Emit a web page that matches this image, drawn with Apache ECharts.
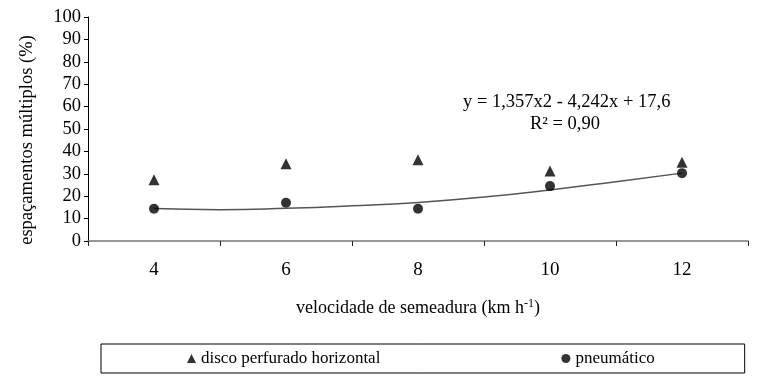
<!DOCTYPE html>
<html><head><meta charset="utf-8">
<script src="https://cdn.jsdelivr.net/npm/echarts@6/dist/echarts.min.js"></script>
<style>html,body{margin:0;padding:0;background:#fff}#c{width:782px;height:384px}</style>
</head><body><div id="c"></div>
<script>
const categories = ['4', '6', '8', '10', '12'];
const disco = [27.3, 34.5, 36.3, 31.2, 35.2];
const pneumatico = [14.4, 17.1, 14.4, 24.5, 30.3];
// trend curve at positions 1..5 (half steps)
const trendX = [1, 1.5, 2, 2.5, 3, 3.5, 4, 4.5, 5];
const trendY = [14.5, 14.0, 14.6, 15.7, 17.2, 19.6, 22.8, 26.5, 30.3];
const yTicks = {min: 0, max: 100, interval: 10};
const equation = 'y = 1,357x2 - 4,242x + 17,6';
const r2 = 'R² = 0,90';

const F = 'Liberation Serif, Times New Roman, serif';
const chart = echarts.init(document.getElementById('c'));
chart.setOption({
  animation: false,
  grid: {left: 88, right: 34, top: 17, bottom: 143},
  xAxis: [{
    type: 'category', data: categories, boundaryGap: true,
    axisLine: {lineStyle: {color: '#777', width: 1.5}},
    axisTick: {show: true, length: 5, lineStyle: {color: '#222'}},
    axisLabel: {fontFamily: F, fontSize: 19, color: '#000', margin: 20},
    name: 'velocidade de semeadura (km h{sup|-1})',
    nameLocation: 'middle', nameGap: 57,
    nameTextStyle: {fontFamily: F, fontSize: 18, color: '#000',
      rich: {sup: {fontFamily: F, fontSize: 12, color: '#000', verticalAlign: 'top', padding: [0, 0, 9, 0]}}}
  }, {
    type: 'value', min: 0.5, max: 5.5, show: false
  }],
  yAxis: {
    type: 'value', min: yTicks.min, max: yTicks.max, interval: yTicks.interval,
    axisLine: {show: true, lineStyle: {color: '#000', width: 1}},
    axisTick: {show: true, length: 4, inside: false, lineStyle: {color: '#000'}},
    splitLine: {show: false},
    axisLabel: {fontFamily: F, fontSize: 18.5, color: '#000', margin: 7},
    name: 'espaçamentos múltiplos (%)', nameLocation: 'middle', nameGap: 51,
    nameTextStyle: {fontFamily: F, fontSize: 18.5, color: '#000', padding: [0, 22, 0, 0]}
  },
  legend: {
    data: [{name: 'disco perfurado horizontal', icon: 'triangle'}, {name: 'pneumático', icon: 'circle'}],
    left: 101, top: 344,
    padding: [6, 90, 6, 86],
    itemGap: 181, itemWidth: 9, itemHeight: 9,
    borderColor: '#000', borderWidth: 1,
    textStyle: {fontFamily: F, fontSize: 17, color: '#000'}
  },
  series: [{
    name: 'trend', type: 'line', xAxisIndex: 1,
    data: trendX.map((x, i) => [x, trendY[i]]),
    smooth: true, symbol: 'none',
    lineStyle: {color: '#555', width: 1.5}, z: 1
  }, {
    name: 'disco perfurado horizontal', type: 'scatter', data: disco,
    symbol: 'triangle', symbolSize: [11, 11], itemStyle: {color: '#000'}, z: 3
  }, {
    name: 'pneumático', type: 'scatter', data: pneumatico,
    symbol: 'circle', symbolSize: 10, itemStyle: {color: '#000'}, z: 3
  }],
  graphic: [{
    type: 'text', left: 463, top: 93,
    style: {text: equation, font: '18.5px ' + F, fill: '#000'}
  }, {
    type: 'text', left: 530, top: 115,
    style: {text: r2, font: '18.5px ' + F, fill: '#000'}
  }]
});
</script></body></html>
